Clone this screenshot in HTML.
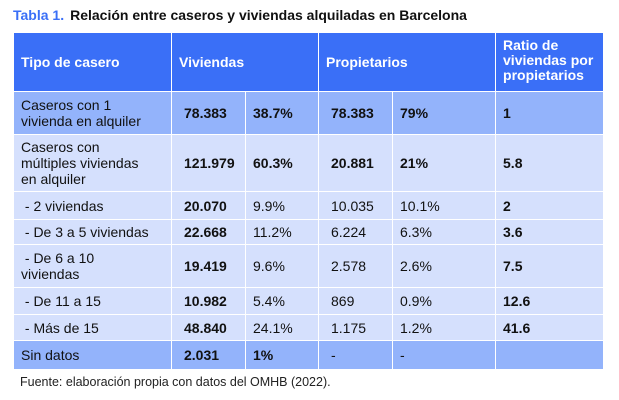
<!DOCTYPE html>
<html><head><meta charset="utf-8"><style>
body{margin:0;width:619px;height:400px;background:#fff;font-family:"Liberation Sans",sans-serif;position:relative;overflow:hidden}
.title{position:absolute;left:13px;top:7px;font-size:14px;font-weight:bold;color:#111}
.title span{color:#3a6ff7;margin-right:6px}
table{position:absolute;left:13px;top:32px;border-collapse:collapse;table-layout:fixed;width:590px;font-size:14px;color:#111}
td,th{border:1.5px solid #fff;padding:0 0 0 7px;text-align:left;vertical-align:middle;line-height:16px}
th{background:#3a6ff7;color:#fff;font-weight:bold;font-size:14px}
tr.d td{background:#93b3fb}
tr.l td{background:#d5e0fd}
td.n{font-weight:bold}
td.c{padding-left:12px}
td.lab{padding-right:14px}
.src{position:absolute;left:20px;top:375px;font-size:12.5px;color:#222}
</style></head><body>
<div class="title"><span>Tabla 1.</span>Relación entre caseros y viviendas alquiladas en Barcelona</div>
<table>
<colgroup><col style="width:158px"><col style="width:74px"><col style="width:73px"><col style="width:74px"><col style="width:103px"><col style="width:108px"></colgroup>
<tr style="height:59px"><th>Tipo de casero</th><th colspan="2">Viviendas</th><th colspan="2">Propietarios</th><th style="vertical-align:top;padding-top:5px;line-height:15px">Ratio de viviendas por propietarios</th></tr>
<tr class="d" style="height:43px"><td class="lab" style="padding-right:22px">Caseros con 1 vivienda en alquiler</td><td class="n c">78.383</td><td class="n">38.7%</td><td class="n c">78.383</td><td class="n">79%</td><td class="n">1</td></tr>
<tr class="l" style="height:57px"><td class="lab" style="padding-right:22px">Caseros con múltiples viviendas en alquiler</td><td class="n c">121.979</td><td class="n">60.3%</td><td class="n c">20.881</td><td class="n">21%</td><td class="n">5.8</td></tr>
<tr class="l" style="height:28px"><td>&nbsp;- 2 viviendas</td><td class="n c">20.070</td><td>9.9%</td><td class="c">10.035</td><td>10.1%</td><td class="n">2</td></tr>
<tr class="l" style="height:25px"><td>&nbsp;- De 3 a 5 viviendas</td><td class="n c">22.668</td><td>11.2%</td><td class="c">6.224</td><td>6.3%</td><td class="n">3.6</td></tr>
<tr class="l" style="height:43px"><td class="lab" style="padding-right:40px">&nbsp;- De 6 a 10 viviendas</td><td class="n c">19.419</td><td>9.6%</td><td class="c">2.578</td><td>2.6%</td><td class="n">7.5</td></tr>
<tr class="l" style="height:27px"><td>&nbsp;- De 11 a 15</td><td class="n c">10.982</td><td>5.4%</td><td class="c">869</td><td>0.9%</td><td class="n">12.6</td></tr>
<tr class="l" style="height:26px"><td>&nbsp;- Más de 15</td><td class="n c">48.840</td><td>24.1%</td><td class="c">1.175</td><td>1.2%</td><td class="n">41.6</td></tr>
<tr class="d" style="height:29px"><td>Sin datos</td><td class="n c">2.031</td><td class="n">1%</td><td class="c">-</td><td>-</td><td></td></tr>
</table>
<div class="src">Fuente: elaboración propia con datos del OMHB (2022).</div>
</body></html>
